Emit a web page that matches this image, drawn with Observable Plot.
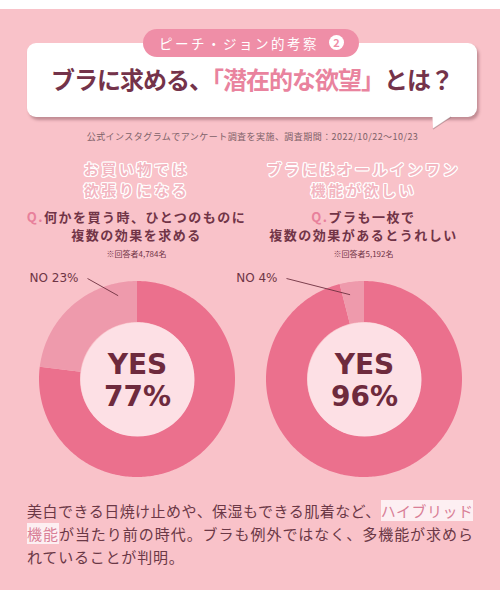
<!DOCTYPE html>
<html><head><meta charset="utf-8">
<script src="https://cdn.jsdelivr.net/npm/d3@7"></script>
<script src="https://cdn.jsdelivr.net/npm/@observablehq/plot@0.6"></script>
<style>
body{margin:0;background:#fff;font-family:"Noto Sans CJK JP","Noto Sans",sans-serif;}
#page{position:relative;width:500px;height:600px;overflow:hidden;background:#fff;}
#bg{position:absolute;left:0;top:9px;width:500px;height:581px;background:#f9c2c9;}
.abs{position:absolute;}
#box{left:27px;top:43px;width:450px;height:74px;background:#fff;border-radius:9px;box-shadow:2px 3px 3px rgba(90,40,50,0.35);}
#title{left:27px;top:62px;width:450px;text-align:center;font-size:24px;font-weight:700;letter-spacing:-1px;color:#74334a;line-height:34px;}
#title .pk{color:#e9839e;}
#pill{left:143px;top:29px;width:216px;height:28px;border-radius:14px;background:#ef8ea7;color:#fff;font-size:13.5px;letter-spacing:2.5px;line-height:28px;text-align:left;box-sizing:border-box;padding-left:16px;}
#pill .num{position:absolute;left:186px;top:6px;width:15px;height:15px;border-radius:50%;background:#fff;color:#ef8ea7;font-size:11px;line-height:15px;text-align:center;letter-spacing:0;font-weight:700;}
#cap{left:0;top:130px;width:505px;text-align:center;font-size:9px;letter-spacing:0.45px;color:#7d6168;}
.head{width:260px;text-align:center;font-size:15px;font-weight:700;line-height:15px;height:15px;color:#f3b6c1;letter-spacing:2.6px;
 text-shadow:1.2px 0 #fff,-1.2px 0 #fff,0 1.2px #fff,0 -1.2px #fff,0.9px 0.9px #fff,-0.9px -0.9px #fff,0.9px -0.9px #fff,-0.9px 0.9px #fff;}
.q{width:250px;text-align:center;font-size:13px;font-weight:700;line-height:13px;height:13px;color:#713447;letter-spacing:1.5px;white-space:nowrap;}
.q .Q{color:#e8809b;}
.note{width:240px;text-align:center;font-size:8px;line-height:9px;color:#713447;}
#para{left:27px;top:499px;width:446px;font-size:15px;line-height:23px;color:#6b3846;font-weight:400;}
#para .l{text-align:justify;text-align-last:justify;white-space:nowrap;display:block;}
#para .l3{display:block;letter-spacing:0.8px;}
#para .hl{background:#fdeff2;color:#d97f97;}
.chart{position:absolute;}
.chart svg{overflow:visible;}
</style></head>
<body>
<div id="page">
 <div id="bg"></div>
 <div id="box" class="abs"></div>
 <svg class="abs" style="left:425px;top:112px" width="40" height="22"><path d="M7.5 5 L8 17 L26 5 Z" fill="#fff"/><path d="M8 17 L26 5" stroke="rgba(90,40,50,0.35)" stroke-width="1.2" fill="none"/></svg>
 <div id="pill" class="abs"></div>
 <div id="title" class="abs"></div>
 <div id="cap" class="abs"></div>
 <div id="heads"></div>
 <div id="charts"></div>
 <div id="para" class="abs"></div>
</div>
<script>
// ---- data ----
const badgeText = "ピーチ・ジョン的考察";
const badgeNum = "2";
const titleParts = ["ブラに求める、", "「潜在的な欲望」", "とは？"];
const caption = "公式インスタグラムでアンケート調査を実施、調査期間：2022/10/22〜10/23";
const headlines = [["お買い物では", "欲張りになる"], ["ブラにはオールインワン", "機能が欲しい"]];
const questions = [["何かを買う時、ひとつのものに", "複数の効果を求める"], ["ブラも一枚で", "複数の効果があるとうれしい"]];
const respondents = ["※回答者4,784名", "※回答者5,192名"];
const answers = ["YES", "NO"];
const yesPct = [77, 96];
const noPct = [23, 4];
const paraLines = [
  ["美白できる日焼け止めや、保湿もできる肌着など、", "ハイブリッド"],
  ["機能", "が当たり前の時代。ブラも例外ではなく、多機能が求めら"],
  ["れていることが判明。"]
];

// ---- layout constants ----
const centersX = [136.5, 363.5];
const centerY = 379;
const R = 98, r0 = 57;
const leaderStartX = [-50, -78];
const headTops = [161, 181.5];
const qTops = [209.5, 227.5];

document.getElementById("pill").innerHTML = badgeText + `<span class="num">${badgeNum}</span>`;
document.getElementById("title").innerHTML = `${titleParts[0]}<span class="pk">${titleParts[1]}</span>${titleParts[2]}`;
document.getElementById("cap").textContent = caption;

const heads = document.getElementById("heads");
function addLine(cls, left, top, html) {
  const d = document.createElement("div");
  d.className = "abs " + cls; d.style.left = left + "px"; d.style.top = top + "px";
  d.innerHTML = html;
  heads.appendChild(d);
}
headlines.forEach((h, i) => {
  const cx = centersX[i];
  h.forEach((line, k) => addLine("head", cx - 130, headTops[k], line));
  questions[i].forEach((line, k) => addLine("q", cx - 125, qTops[k], (k === 0 ? `<span class="Q">Q.</span>` : "") + line));
  addLine("note", cx - 120, 249, respondents[i]);
});

const para = document.getElementById("para");
para.innerHTML =
  `<span class="l">${paraLines[0][0]}<span class="hl">${paraLines[0][1]}</span></span>` +
  `<span class="l"><span class="hl">${paraLines[1][0]}</span>${paraLines[1][1]}</span>` +
  `<span class="l3">${paraLines[2][0]}</span>`;

// ---- donuts ----
function donut(i) {
  const slices = [
    {answer: "YES", start: 0, end: yesPct[i]},
    {answer: "NO", start: -noPct[i], end: 0}
  ];
  const pts = slices.flatMap(s => {
    const n = Math.max(2, Math.ceil((s.end - s.start) * 3.6));
    return d3.range(n + 1).map(k => {
      const a = (s.start + (s.end - s.start) * k / n) / 100 * 2 * Math.PI;
      return {answer: s.answer, x1: R * Math.sin(a), y1: R * Math.cos(a), x2: r0 * Math.sin(a), y2: r0 * Math.cos(a)};
    });
  });
  const noDeg = noPct[i] * 3.6;
  const endA = -Math.min(noDeg * 0.67, 13) * Math.PI / 180;
  const leader = [{x1: leaderStartX[i], y1: 101, x2: 86 * Math.sin(endA), y2: 86 * Math.cos(endA), label: `NO ${noPct[i]}%`}];
  return Plot.plot({
    width: 240, height: 240, margin: 0,
    x: {domain: [-120, 120], axis: null},
    y: {domain: [-120, 120], axis: null},
    color: {domain: answers, range: ["#eb708d", "#ee9aac"]},
    style: {background: "transparent", overflow: "visible"},
    marks: [
      Plot.area(pts, {x1: "x1", y1: "y1", x2: "x2", y2: "y2", z: "answer", fill: "answer", curve: "linear"}),
      Plot.dot([{x: 0, y: 0}], {x: "x", y: "y", r: r0, fill: "#fde0e5", stroke: null}),
      Plot.text([{x: 0, y: 0, t: `YES\n${yesPct[i]}%`}], {x: "x", y: "y", text: "t", fontSize: 28, fontWeight: 700, lineHeight: 1.15, fill: "#6e2a3d", fontFamily: "DejaVu Sans", letterSpacing: 0.5}),
      Plot.link(leader, {x1: "x1", y1: "y1", x2: "x2", y2: "y2", stroke: "#6e3040", strokeWidth: 0.9}),
      Plot.text(leader, {x: "x1", y: "y1", text: "label", textAnchor: "end", dx: -9, fontSize: 12, fill: "#6e3545", fontFamily: "DejaVu Sans", letterSpacing: 2})
    ]
  });
}

const chartsDiv = document.getElementById("charts");
yesPct.forEach((_, i) => {
  const wrap = document.createElement("div");
  wrap.className = "chart";
  wrap.style.left = (centersX[i] - 120) + "px";
  wrap.style.top = (centerY - 120) + "px";
  wrap.appendChild(donut(i));
  chartsDiv.appendChild(wrap);
});
</script>
</body></html>
